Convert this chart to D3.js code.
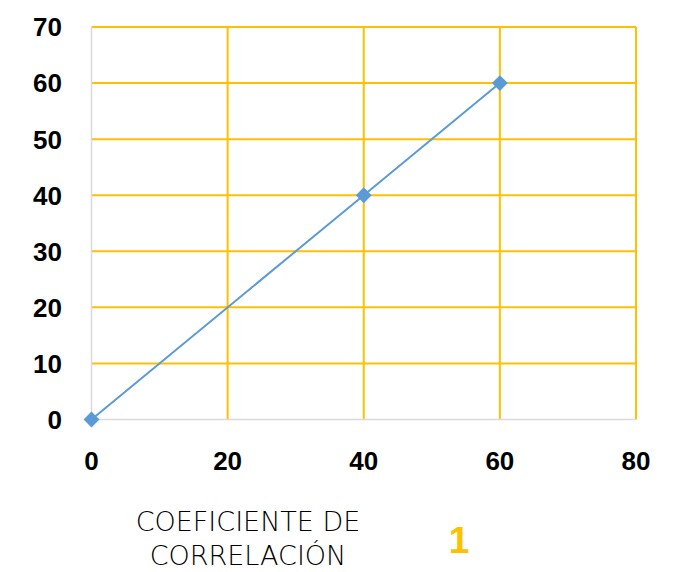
<!DOCTYPE html>
<html>
<head>
<meta charset="utf-8">
<script src="https://cdn.jsdelivr.net/npm/d3@7"></script>
<style>
  body { margin: 0; background: #fff; }
</style>
</head>
<body>
<div id="chart"></div>
<script>
// data
var xValues = [0, 40, 60];
var yValues = [0, 40, 60];
var xTicks = [0, 20, 40, 60, 80];
var yTicks = [0, 10, 20, 30, 40, 50, 60, 70];
var titleLines = ["COEFICIENTE DE", "CORRELACIÓN"];
var titleNumber = "1";

var W = 684, H = 572;
var svg = d3.select("#chart").append("svg")
  .attr("width", W)
  .attr("height", H);

var x = d3.scaleLinear().domain([0, 80]).range([91.5, 636]);
var y = d3.scaleLinear().domain([0, 70]).range([419.5, 27]);

// vertical gridlines
svg.append("g")
  .selectAll("line")
  .data(xTicks.filter(function(d){ return d > 0; }))
  .enter().append("line")
    .attr("x1", function(d){ return x(d); })
    .attr("x2", function(d){ return x(d); })
    .attr("y1", y(0))
    .attr("y2", y(70))
    .style("stroke", "#FFC000")
    .style("stroke-width", 2);

// horizontal gridlines
svg.append("g")
  .selectAll("line")
  .data(yTicks.filter(function(d){ return d > 0; }))
  .enter().append("line")
    .attr("x1", x(0))
    .attr("x2", x(80))
    .attr("y1", function(d){ return y(d); })
    .attr("y2", function(d){ return y(d); })
    .style("stroke", "#FFC000")
    .style("stroke-width", 2);

// axis lines (light grey)
svg.append("line")
  .attr("x1", x(0)).attr("x2", x(80))
  .attr("y1", y(0)).attr("y2", y(0))
  .style("stroke", "#D9D9D9").style("stroke-width", 1.5);
svg.append("line")
  .attr("x1", x(0)).attr("x2", x(0))
  .attr("y1", y(0)).attr("y2", y(70))
  .style("stroke", "#D9D9D9").style("stroke-width", 1.5);

// tick labels
svg.append("g")
  .selectAll("text")
  .data(yTicks)
  .enter().append("text")
    .attr("x", 62)
    .attr("y", function(d){ return y(d); })
    .attr("dy", "0.36em")
    .attr("text-anchor", "end")
    .style("font-family", "'Liberation Sans', Arial, sans-serif")
    .style("font-weight", "bold")
    .style("font-size", "26px")
    .text(function(d){ return d; });

svg.append("g")
  .selectAll("text")
  .data(xTicks)
  .enter().append("text")
    .attr("x", function(d){ return x(d); })
    .attr("y", 470)
    .attr("text-anchor", "middle")
    .style("font-family", "'Liberation Sans', Arial, sans-serif")
    .style("font-weight", "bold")
    .style("font-size", "26px")
    .text(function(d){ return d; });

// series line
var pts = xValues.map(function(d, i){ return [d, yValues[i]]; });
var line = d3.line()
  .x(function(d){ return x(d[0]); })
  .y(function(d){ return y(d[1]); });

svg.append("path")
  .datum(pts)
  .attr("d", line)
  .style("fill", "none")
  .style("stroke", "#5B9BD5")
  .style("stroke-width", 2);

// diamond markers
svg.append("g")
  .selectAll("path")
  .data(pts)
  .enter().append("path")
    .attr("transform", function(d){ return "translate(" + x(d[0]) + "," + y(d[1]) + ")"; })
    .attr("d", d3.symbol().type(d3.symbolDiamond2).size(160))
    .style("fill", "#5B9BD5");

// title text below chart
svg.append("g")
  .selectAll("text")
  .data(titleLines)
  .enter().append("text")
    .attr("x", 248)
    .attr("y", function(d, i){ return 531 + i * 34; })
    .attr("text-anchor", "middle")
    .style("font-family", "'DejaVu Sans', sans-serif")
    .style("font-weight", "200")
    .style("font-size", "27px")
    .style("fill", "#000")
    .text(function(d){ return d; });

svg.append("text")
  .attr("x", 459)
  .attr("y", 553)
  .attr("text-anchor", "middle")
  .style("font-family", "'Liberation Sans', Arial, sans-serif")
  .style("font-weight", "bold")
  .style("font-size", "37px")
  .style("fill", "#FFC000")
  .text(titleNumber);
</script>
</body>
</html>
